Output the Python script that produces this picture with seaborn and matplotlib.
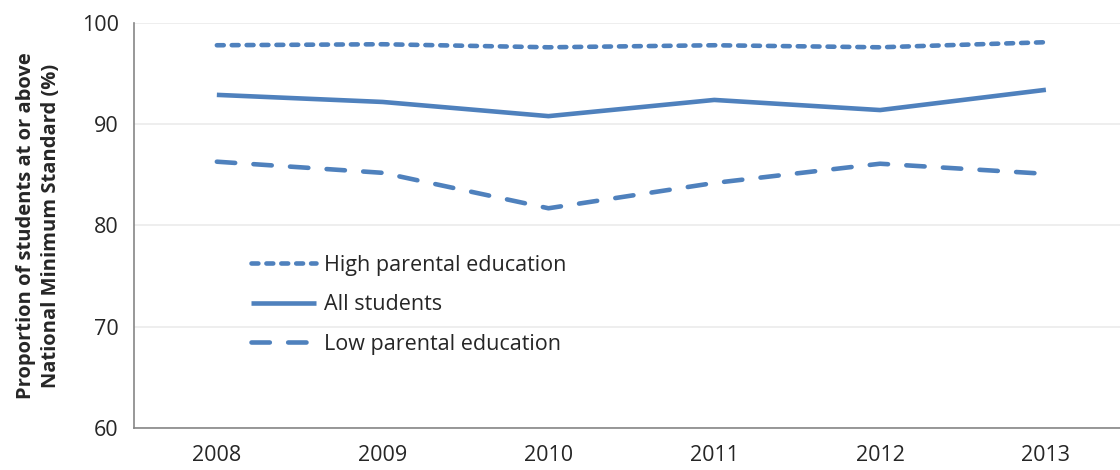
import seaborn as sns
import pandas as pd
import matplotlib.pyplot as plt
from matplotlib.ticker import FixedLocator

years = ['2008', '2009', '2010', '2011', '2012', '2013']
high_edu = [97.8, 97.9, 97.6, 97.8, 97.6, 98.1]
all_students = [92.9, 92.2, 90.8, 92.4, 91.4, 93.4]
low_edu = [86.3, 85.2, 81.7, 84.2, 86.1, 85.1]

series = ['High parental education', 'All students', 'Low parental education']

df = pd.DataFrame({
    'Year': years * 3,
    'Value': high_edu + all_students + low_edu,
    'Group': [series[0]] * 6 + [series[1]] * 6 + [series[2]] * 6,
})

sns.set_style('white')
plt.rcParams['font.family'] = ['Open Sans', 'DejaVu Sans']

blue = '#4F81BD'
fig = plt.figure(figsize=(11.2, 4.7), dpi=100)
ax = fig.add_axes([0.1196, 0.0894, 0.8804, 0.8617])

sns.lineplot(data=df, x='Year', y='Value', hue='Group', style='Group',
             palette=[blue] * 3,
             dashes={series[0]: (1.5, 1.75), series[1]: '', series[2]: (4, 4)},
             linewidth=3.3, dash_capstyle='round', solid_capstyle='butt',
             legend=False, ax=ax)

ax.set_ylim(60, 100)
ax.set_yticks([60, 70, 80, 90, 100])
ax.set_xlim(-0.5, 5.447)
ax.grid(axis='y', color='#EBEBEB', linewidth=1.2)
ax.grid(axis='x', visible=False)
for s in ['top', 'right']:
    ax.spines[s].set_visible(False)
for s in ['left', 'bottom']:
    ax.spines[s].set_color('#868686')
    ax.spines[s].set_linewidth(1.2)

ax.xaxis.set_minor_locator(FixedLocator([i - 0.5 for i in range(7)]))
ax.tick_params(axis='x', which='major', length=0, pad=12, labelsize=15.5)
ax.tick_params(axis='x', which='minor', length=7, color='#868686', width=1.2, direction='out')
ax.tick_params(axis='y', length=6, color='#868686', width=1.2, direction='out', labelsize=15.5, pad=5)

ax.set_xlabel('')
ax.set_ylabel('Proportion of students at or above\nNational Minimum Standard (%)',
              fontsize=14.5, fontweight='bold', labelpad=15, linespacing=1.3)

handles = ax.get_lines()[:3]
leg = ax.legend(handles, series, loc='upper left', bbox_to_anchor=(0.099, 0.475),
                frameon=False, fontsize=15.5, handlelength=3.0, labelspacing=0.85,
                handletextpad=0.4)

fig.savefig('out.png', dpi=100)
